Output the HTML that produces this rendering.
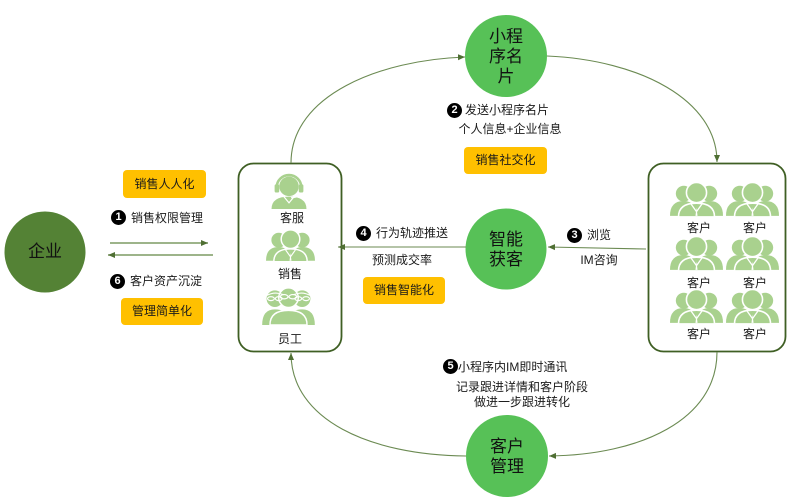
<!DOCTYPE html>
<html><head><meta charset="utf-8">
<style>
html,body{margin:0;padding:0;background:#fff;}
#c{position:relative;width:800px;height:498px;overflow:hidden;background:#fff;font-family:"Liberation Sans","Noto Sans CJK SC",sans-serif;color:#1a1a1a;}
.t{position:absolute;font-size:12px;line-height:14px;white-space:nowrap;}
.tc{position:absolute;font-size:12px;line-height:14px;white-space:nowrap;transform:translateX(-50%);}
.ob{position:absolute;background:#FFC000;border-radius:4px;font-size:12px;text-align:center;color:#1a1a1a;}
.b{position:absolute;width:15px;height:15px;border-radius:50%;background:#000;color:#fff;font-size:11px;font-weight:bold;line-height:15px;text-align:center;font-family:"Liberation Sans",sans-serif;}
.ct{position:absolute;font-size:17px;line-height:20px;text-align:center;color:#111;}
</style></head><body>
<div id="c">
<svg width="800" height="498" style="position:absolute;left:0;top:0">
<defs>
<marker id="a" markerWidth="9" markerHeight="9" refX="7" refY="4" orient="auto" markerUnits="userSpaceOnUse"><path d="M0,1 L7,4 L0,7 Z" fill="#4f6f33"/></marker>
<symbol id="grp" viewBox="0 0 50 32">
<g fill="#A9D18E">
<circle cx="13" cy="10" r="7.5"/><path d="M0,31 Q0,17 13,17 Q22,17 24,26 L24,31 Z"/>
<circle cx="37" cy="10" r="7.5"/><path d="M50,31 Q50,17 37,17 Q28,17 26,26 L26,31 Z"/>
<circle cx="25" cy="9" r="9.5" stroke="#fff" stroke-width="1.5"/>
<path d="M8,32 Q8,19 25,19 Q42,19 42,32 Z" stroke="#fff" stroke-width="1.5"/>
</g>
<path d="M20,20 L25,27 L30,20" stroke="#fff" stroke-width="1.2" fill="none"/>
<path d="M25,23 L24,31 L26,31 Z" fill="#fff"/>
</symbol>
<symbol id="hs" viewBox="0 0 38 36">
<g fill="#A9D18E">
<circle cx="19" cy="14" r="9.5"/>
<path d="M2,36 Q2,24 19,24 Q36,24 36,36 Z"/>
<rect x="5" y="12" width="4.5" height="8" rx="1.5"/><rect x="28.5" y="12" width="4.5" height="8" rx="1.5"/>
</g>
<path d="M7,15 A12,12 0 0 1 31,15" stroke="#A9D18E" stroke-width="2.5" fill="none"/>
<path d="M30,20 Q29,25 21,25" stroke="#fff" stroke-width="1.2" fill="none"/>
<path d="M14,24 L19,30 L24,24" stroke="#fff" stroke-width="1.2" fill="none"/>
</symbol>
<symbol id="stf" viewBox="0 0 54 40">
<g fill="#A9D18E">
<circle cx="13" cy="13" r="8.5"/><path d="M0,40 Q0,24 13,24 Q24,24 27,32 L27,40 Z"/>
<circle cx="41" cy="13" r="8.5"/><path d="M54,40 Q54,24 41,24 Q30,24 27,32 L27,40 Z"/>
<circle cx="27" cy="12" r="10" stroke="#fff" stroke-width="1.5"/>
<path d="M8,40 Q8,25 27,25 Q46,25 46,40 Z" stroke="#fff" stroke-width="1.5"/>
</g>
<g stroke="#fff" stroke-width="1.2" fill="none">
<ellipse cx="9" cy="13" rx="3.5" ry="2"/><ellipse cx="17" cy="13" rx="3.5" ry="2"/>
<ellipse cx="37" cy="13" rx="3.5" ry="2"/><ellipse cx="45" cy="13" rx="3.5" ry="2"/>
<ellipse cx="22.5" cy="11" rx="4" ry="2.2"/><ellipse cx="31.5" cy="11" rx="4" ry="2.2"/>
<path d="M4,10 Q13,5 22,9 M32,9 Q41,5 50,10"/>
</g>
</symbol>
</defs>

<!-- circles -->
<circle cx="45" cy="252" r="40.5" fill="#548235"/>
<circle cx="506" cy="56" r="41" fill="#57C157"/>
<circle cx="506" cy="249" r="40.5" fill="#57C157"/>
<circle cx="507" cy="456" r="41" fill="#57C157"/>

<!-- boxes -->
<rect x="238.5" y="163.5" width="103" height="188" rx="15" fill="#fff" stroke="#3f5f24" stroke-width="1.8"/>
<rect x="648.5" y="163.5" width="137" height="188" rx="15" fill="#fff" stroke="#3f5f24" stroke-width="1.8"/>

<!-- connectors -->
<g fill="none" stroke="#6b8a52" stroke-width="1.1">
<path d="M291,163 C291,95 380,60 465,57" marker-end="url(#a)"/>
<path d="M547,56 C640,60 717,100 717,162" marker-end="url(#a)"/>
<path d="M717,352 C717,420 640,455 549,456" marker-end="url(#a)"/>
<path d="M466,456 C370,455 291,420 291,353" marker-end="url(#a)"/>
<path d="M646,249 L548,247" marker-end="url(#a)"/>
<path d="M466,247 L338,247" marker-end="url(#a)"/>
</g>
<g fill="none" stroke="#7d9c63" stroke-width="1.6">
<path d="M110,243 L208,243" marker-end="url(#a)"/>
<path d="M213,255 L108,255" marker-end="url(#a)"/>
</g>

<!-- icons -->
<use href="#hs" x="269" y="172" width="40" height="37"/>
<use href="#grp" x="266" y="230" width="49" height="32"/>
<use href="#stf" x="262" y="286" width="53" height="39"/>

<use href="#grp" x="670" y="183" width="53" height="34"/>
<use href="#grp" x="726" y="183" width="53" height="34"/>
<use href="#grp" x="670" y="237" width="53" height="34"/>
<use href="#grp" x="726" y="237" width="53" height="34"/>
<use href="#grp" x="670" y="290" width="53" height="34"/>
<use href="#grp" x="726" y="290" width="53" height="34"/>
</svg>

<!-- circle texts -->
<div class="ct" style="left:5px;top:242px;width:80px;">企业</div>
<div class="ct" style="left:466px;top:27px;width:80px;">小程<br>序名<br>片</div>
<div class="ct" style="left:466px;top:230px;width:80px;">智能<br>获客</div>
<div class="ct" style="left:467px;top:437px;width:80px;">客户<br>管理</div>

<!-- orange boxes -->
<div class="ob" style="left:123px;top:170px;width:83px;height:28px;line-height:28px;">销售人人化</div>
<div class="ob" style="left:121px;top:298px;width:82px;height:27px;line-height:27px;">管理简单化</div>
<div class="ob" style="left:363px;top:277px;width:82px;height:27px;line-height:27px;">销售智能化</div>
<div class="ob" style="left:464px;top:147px;width:83px;height:27px;line-height:27px;">销售社交化</div>

<!-- numbered labels -->
<div class="b" style="left:111px;top:210px;">1</div>
<div class="t" style="left:131px;top:211px;">销售权限管理</div>
<div class="b" style="left:110px;top:274px;">6</div>
<div class="t" style="left:130px;top:274px;">客户资产沉淀</div>
<div class="b" style="left:356px;top:226px;">4</div>
<div class="t" style="left:376px;top:226px;">行为轨迹推送</div>
<div class="tc" style="left:402px;top:253px;">预测成交率</div>
<div class="b" style="left:447px;top:103px;">2</div>
<div class="t" style="left:465px;top:103px;">发送小程序名片</div>
<div class="tc" style="left:510px;top:122px;">个人信息+企业信息</div>
<div class="b" style="left:567px;top:228px;">3</div>
<div class="t" style="left:587px;top:228px;">浏览</div>
<div class="tc" style="left:599px;top:253px;">IM咨询</div>
<div class="b" style="left:443px;top:359px;">5</div>
<div class="t" style="left:458px;top:360px;">小程序内IM即时通讯</div>
<div class="tc" style="left:522px;top:380px;">记录跟进详情和客户阶段</div>
<div class="tc" style="left:522px;top:395px;">做进一步跟进转化</div>

<!-- icon labels -->
<div class="tc" style="left:292px;top:211px;">客服</div>
<div class="tc" style="left:290px;top:267px;">销售</div>
<div class="tc" style="left:290px;top:332px;">员工</div>
<div class="tc" style="left:699px;top:221px;">客户</div>
<div class="tc" style="left:755px;top:221px;">客户</div>
<div class="tc" style="left:699px;top:276px;">客户</div>
<div class="tc" style="left:755px;top:276px;">客户</div>
<div class="tc" style="left:699px;top:327px;">客户</div>
<div class="tc" style="left:755px;top:327px;">客户</div>
</div>
</body></html>
